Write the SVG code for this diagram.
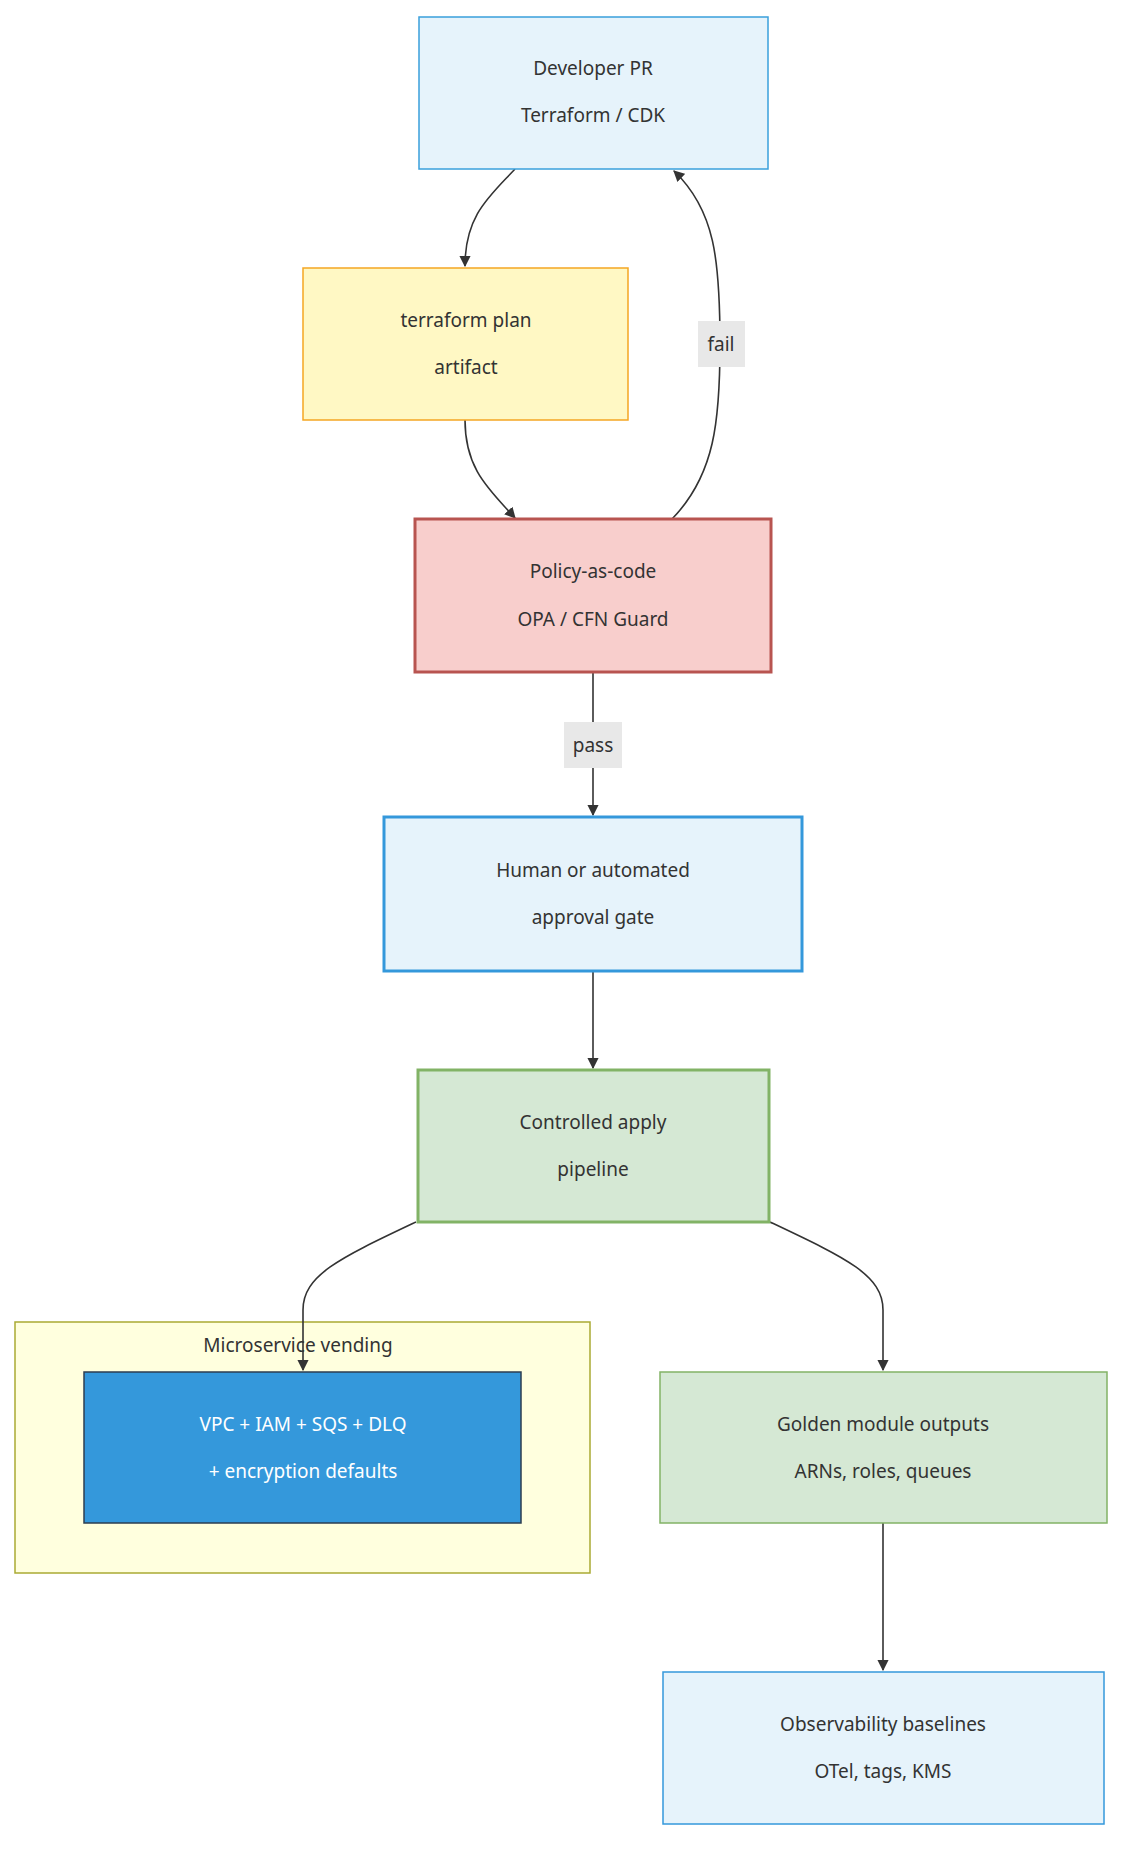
<svg xmlns="http://www.w3.org/2000/svg" width="1142" height="1872" viewBox="0 0 1142 1872">
<style>
text{font-family:"Noto Sans","DejaVu Sans",sans-serif;font-size:19px;fill:#333;text-anchor:middle}
.e{fill:none;stroke:#333;stroke-width:1.6}
.lb{fill:#e8e8e8}
</style>
<defs><marker id="a" viewBox="0 0 10 10" refX="9" refY="5" markerWidth="7" markerHeight="7" orient="auto"><path d="M0,0L10,5L0,10z" fill="#333"/></marker></defs>
<rect width="1142" height="1872" fill="#fff"/>
<g id="cluster"><rect x="15" y="1322" width="575" height="251" fill="#ffffde" stroke="#aaaa33" stroke-width="1.5"/><text x="298" y="1352">Microservice vending</text></g>
<g id="edges">
<path class="e" marker-end="url(#a)" d="M515,169C490,196 465,215 465,266"/>
<path class="e" marker-end="url(#a)" d="M465,420C465,470 490,490 515,518"/>
<path class="e" marker-end="url(#a)" d="M672,519C715,475 720,420 720,344C720,260 715,210 674,171"/>
<path class="e" marker-end="url(#a)" d="M593,672L593,815"/>
<path class="e" marker-end="url(#a)" d="M593,971L593,1068"/>
<path class="e" marker-end="url(#a)" d="M416,1222C340,1258 303,1275 303,1310L303,1370"/>
<path class="e" marker-end="url(#a)" d="M770,1222C846,1258 883,1275 883,1310L883,1370"/>
<path class="e" marker-end="url(#a)" d="M883,1523L883,1670"/>
<rect class="lb" x="698" y="321" width="47" height="46"/><text x="721" y="351">fail</text>
<rect class="lb" x="564" y="722" width="58" height="46"/><text x="593" y="752">pass</text>
</g>
<g id="dev"><rect x="419" y="17" width="349" height="152" fill="#e6f3fb" stroke="#3aa0dc" stroke-width="1.5"/><text x="593" y="75">Developer PR</text><text x="593" y="122">Terraform / CDK</text></g>
<g id="plan"><rect x="303" y="268" width="325" height="152" fill="#fff8c4" stroke="#f5a623" stroke-width="1.5"/><text x="466" y="327">terraform plan</text><text x="466" y="374">artifact</text></g>
<g id="policy"><rect x="415" y="519" width="356" height="153" fill="#f8cecc" stroke="#b85450" stroke-width="3"/><text x="593" y="578">Policy-as-code</text><text x="593" y="626">OPA / CFN Guard</text></g>
<g id="human"><rect x="384" y="817" width="418" height="154" fill="#e6f3fb" stroke="#3498db" stroke-width="3"/><text x="593" y="877">Human or automated</text><text x="593" y="924">approval gate</text></g>
<g id="apply"><rect x="418" y="1070" width="351" height="152" fill="#d5e8d4" stroke="#82b366" stroke-width="3"/><text x="593" y="1129">Controlled apply</text><text x="593" y="1176">pipeline</text></g>
<g id="vpc"><rect x="84" y="1372" width="437" height="151" fill="#3498db" stroke="#2c3e50" stroke-width="1.5"/><text x="303" y="1431" style="fill:#fff">VPC + IAM + SQS + DLQ</text><text x="303" y="1478" style="fill:#fff">+ encryption defaults</text></g>
<g id="golden"><rect x="660" y="1372" width="447" height="151" fill="#d5e8d4" stroke="#82b366" stroke-width="1.5"/><text x="883" y="1431">Golden module outputs</text><text x="883" y="1478">ARNs, roles, queues</text></g>
<g id="obs"><rect x="663" y="1672" width="441" height="152" fill="#e6f3fb" stroke="#3498db" stroke-width="1.5"/><text x="883" y="1731">Observability baselines</text><text x="883" y="1778">OTel, tags, KMS</text></g>
</svg>
